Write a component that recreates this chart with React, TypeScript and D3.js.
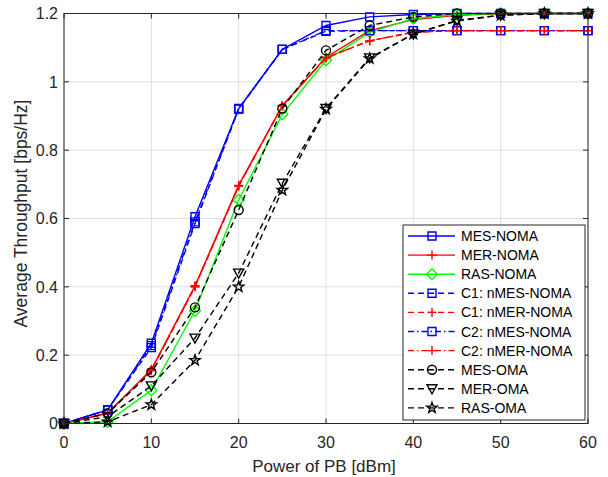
import React from "react";
import * as d3 from "d3";

const xValues = [0, 5, 10, 15, 20, 25, 30, 35, 40, 45, 50, 55, 60];
const mesNoma = [0, 0.04, 0.235, 0.605, 0.922, 1.095, 1.165, 1.19, 1.197, 1.2, 1.2, 1.2, 1.2];
const merNoma = [0, 0.03, 0.158, 0.403, 0.697, 0.93, 1.072, 1.15, 1.182, 1.195, 1.2, 1.2, 1.2];
const rasNoma = [0, 0.005, 0.097, 0.33, 0.654, 0.905, 1.063, 1.145, 1.185, 1.197, 1.2, 1.2, 1.2];
const c1nMes = [0, 0.04, 0.222, 0.585, 0.92, 1.095, 1.148, 1.15, 1.15, 1.15, 1.15, 1.15, 1.15];
const c1nMer = [0, 0.03, 0.155, 0.4, 0.695, 0.93, 1.07, 1.12, 1.145, 1.15, 1.15, 1.15, 1.15];
const c2nMes = [0, 0.04, 0.228, 0.59, 0.921, 1.095, 1.15, 1.15, 1.15, 1.15, 1.15, 1.15, 1.15];
const c2nMer = [0, 0.03, 0.156, 0.401, 0.696, 0.93, 1.071, 1.12, 1.145, 1.15, 1.15, 1.15, 1.15];
const mesOma = [0, 0.03, 0.15, 0.34, 0.625, 0.922, 1.092, 1.165, 1.19, 1.2, 1.2, 1.2, 1.2];
const merOma = [0, 0.02, 0.11, 0.25, 0.44, 0.703, 0.922, 1.07, 1.14, 1.18, 1.195, 1.2, 1.2];
const rasOma = [0, 0.005, 0.055, 0.185, 0.4, 0.683, 0.92, 1.068, 1.14, 1.178, 1.195, 1.2, 1.2];

const xTicks = [0, 10, 20, 30, 40, 50, 60];
const yTicks = [0, 0.2, 0.4, 0.6, 0.8, 1, 1.2];
const yTickLabels = ["0", "0.2", "0.4", "0.6", "0.8", "1", "1.2"];
const xLabel = "Power of PB [dBm]";
const yLabel = "Average Throughput [bps/Hz]";

type Marker = "square" | "plus" | "diamond" | "circle" | "triangleDown" | "star";
type Series = { name: string; values: number[]; color: string; dash: string; marker: Marker };

const series: Series[] = [
  { name: "MES-NOMA", values: mesNoma, color: "#0000ff", dash: "", marker: "square" },
  { name: "MER-NOMA", values: merNoma, color: "#ff0000", dash: "", marker: "plus" },
  { name: "RAS-NOMA", values: rasNoma, color: "#00ff00", dash: "", marker: "diamond" },
  { name: "C1: nMES-NOMA", values: c1nMes, color: "#0000ff", dash: "6,4", marker: "square" },
  { name: "C1: nMER-NOMA", values: c1nMer, color: "#ff0000", dash: "6,4", marker: "plus" },
  { name: "C2: nMES-NOMA", values: c2nMes, color: "#0000ff", dash: "6,3,1.5,3", marker: "square" },
  { name: "C2: nMER-NOMA", values: c2nMer, color: "#ff0000", dash: "6,3,1.5,3", marker: "plus" },
  { name: "MES-OMA", values: mesOma, color: "#000000", dash: "6,4", marker: "circle" },
  { name: "MER-OMA", values: merOma, color: "#000000", dash: "6,4", marker: "triangleDown" },
  { name: "RAS-OMA", values: rasOma, color: "#000000", dash: "6,4", marker: "star" },
];

function markerPath(m: Marker): string {
  const r = 4.5;
  switch (m) {
    case "square":
      return `M${-4},${-4}H4V4H-4Z`;
    case "plus":
      return `M${-r},0H${r}M0,${-r}V${r}`;
    case "diamond":
      return `M0,${-5.5}L5.5,0L0,5.5L-5.5,0Z`;
    case "circle":
      return `M${r},0A${r},${r} 0 1,1 ${-r},0A${r},${r} 0 1,1 ${r},0Z`;
    case "triangleDown":
      return `M${-5},${-4}L5,${-4}L0,5Z`;
    case "star": {
      const pts: string[] = [];
      const R = 5.5, ri = 2.2;
      for (let i = 0; i < 10; i++) {
        const a = -Math.PI / 2 + (i * Math.PI) / 5;
        const rr = i % 2 === 0 ? R : ri;
        pts.push(`${(rr * Math.cos(a)).toFixed(2)},${(rr * Math.sin(a)).toFixed(2)}`);
      }
      return "M" + pts.join("L") + "Z";
    }
  }
}

const W = 608, H = 477;
const left = 64, right = 588, top = 13.5, bottom = 423.5;

export default function App() {
  const x = d3.scaleLinear().domain([0, 60]).range([left, right]);
  const y = d3.scaleLinear().domain([0, 1.2]).range([bottom, top]);
  const line = d3
    .line<number>()
    .x((_, i) => x(xValues[i]))
    .y((d) => y(d));
  const axisColor = "#262626";
  const font = "'Liberation Sans', Arial, Helvetica, sans-serif";
  const legX = 403, legY = 225, legW = 182, legH = 195;
  const rowH = 19.1;
  return (
    <svg width={W} height={H} style={{ position: "absolute", left: 0, top: 0, background: "#fff" }} fontFamily={font}>
      <rect x={0} y={0} width={W} height={H} fill="#fff" />
      {xTicks.map((t) => (
        <line key={"gx" + t} x1={x(t)} x2={x(t)} y1={top} y2={bottom} stroke="#dfdfdf" strokeWidth={1} />
      ))}
      {yTicks.map((t) => (
        <line key={"gy" + t} x1={left} x2={right} y1={y(t)} y2={y(t)} stroke="#dfdfdf" strokeWidth={1} />
      ))}
      <g>
        {series.map((s) => (
          <g key={s.name}>
            <path d={line(s.values) || ""} fill="none" stroke={s.color} strokeWidth={1.4} strokeDasharray={s.dash} />
            {s.values.map((v, i) => (
              <path
                key={i}
                d={markerPath(s.marker)}
                transform={`translate(${x(xValues[i])},${y(v)})`}
                fill="none"
                stroke={s.color}
                strokeWidth={1.4}
              />
            ))}
          </g>
        ))}
      </g>
      <rect x={left} y={top} width={right - left} height={bottom - top} fill="none" stroke={axisColor} strokeWidth={1} />
      {xTicks.map((t) => (
        <g key={"tx" + t}>
          <line x1={x(t)} x2={x(t)} y1={bottom} y2={bottom - 5} stroke={axisColor} />
          <line x1={x(t)} x2={x(t)} y1={top} y2={top + 5} stroke={axisColor} />
          <text x={x(t)} y={448} textAnchor="middle" fontSize={16} fill={axisColor}>
            {t}
          </text>
        </g>
      ))}
      {yTicks.map((t, i) => (
        <g key={"ty" + t}>
          <line x1={left} x2={left + 5} y1={y(t)} y2={y(t)} stroke={axisColor} />
          <line x1={right} x2={right - 5} y1={y(t)} y2={y(t)} stroke={axisColor} />
          <text x={58} y={y(t) + 5.8} textAnchor="end" fontSize={16} fill={axisColor}>
            {yTickLabels[i]}
          </text>
        </g>
      ))}
      <text x={324} y={472} textAnchor="middle" fontSize={17} fill={axisColor}>
        {xLabel}
      </text>
      <text transform={`translate(27,213.5) rotate(-90)`} textAnchor="middle" fontSize={17.5} fill={axisColor}>
        {yLabel}
      </text>
      <rect x={legX} y={legY} width={legW} height={legH} fill="#fff" stroke={axisColor} strokeWidth={1} />
      {series.map((s, i) => {
        const cy = legY + 11 + i * rowH;
        return (
          <g key={"leg" + s.name}>
            <line x1={408} x2={455} y1={cy} y2={cy} stroke={s.color} strokeWidth={1.4} strokeDasharray={s.dash} />
            <path d={markerPath(s.marker)} transform={`translate(432,${cy})`} fill="none" stroke={s.color} strokeWidth={1.4} />
            <text x={461} y={cy + 5} fontSize={14} fill="#000">
              {s.name}
            </text>
          </g>
        );
      })}
    </svg>
  );
}
